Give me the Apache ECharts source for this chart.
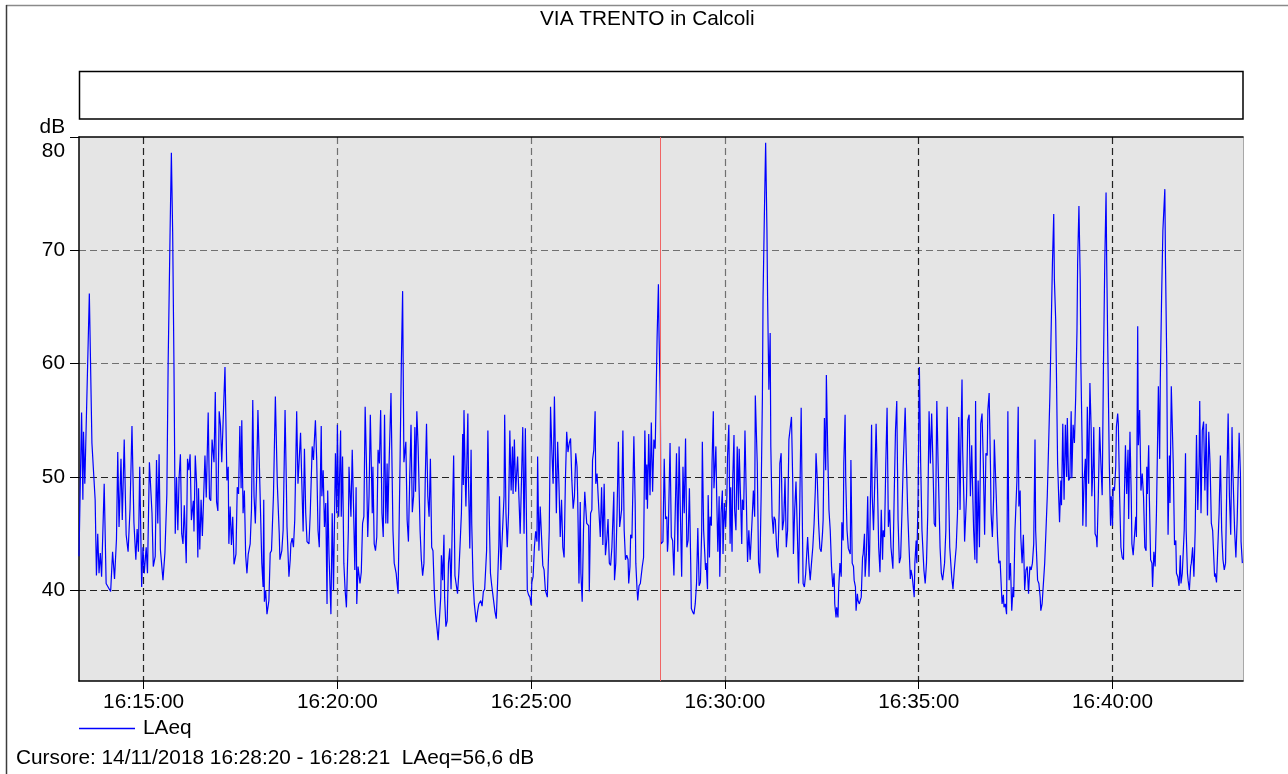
<!DOCTYPE html>
<html><head><meta charset="utf-8">
<script src="https://cdn.jsdelivr.net/npm/echarts@6/dist/echarts.min.js"></script>
<style>html,body{margin:0;padding:0;background:#fff;overflow:hidden}#c{width:1288px;height:774px}</style>
</head><body><div id="c"></div>
<script>
const chartTitle = 'VIA TRENTO in Calcoli';
const seriesName = 'LAeq';
const startClock = '16:13:20';
const endOffsetSec = 1802;
const xTickLabels = ['16:15:00','16:20:00','16:25:00','16:30:00','16:35:00','16:40:00'];
const yTicks = [40,50,60,70,80];
const yMin = 32, yMax = 80;
const cursorClock = '16:28:20';
const cursorText = 'Cursore: 14/11/2018 16:28:20 - 16:28:21  LAeq=56,6 dB';

// seconds after 16:13:20
const secs = [
0,4,6,7,9,16,20,25,27,29,
31,33,35,39,42,45,49,52,55,58,
60,62,65,67,70,73,76,79,82,85,
88,90,92,94,97,99,101,104,106,109,
113,115,118,120,122,124,126,130,133,136,
138,141,143,145,147,149,151,153,155,157,
159,161,163,166,168,170,172,174,177,178,
180,182,184,185,187,189,191,193,195,197,
200,202,204,206,209,211,213,215,217,219,
221,224,226,229,231,232,234,236,238,240,
243,245,247,249,251,252,254,256,258,260,
262,265,267,269,271,273,275,277,279,282,
283,285,286,287,289,291,294,296,298,301,
304,307,310,311,314,316,319,321,322,325,
327,328,330,332,334,337,339,343,345,347,
349,351,353,356,358,361,363,364,366,368,
370,372,375,376,378,380,382,384,385,387,
390,392,394,397,399,400,402,405,406,408,
410,412,414,417,418,421,423,425,427,429,
430,432,435,437,439,441,443,445,447,449,
451,454,455,457,459,461,463,465,467,469,
471,473,
475,477,478,480,483,486,488,491,494,497,
499,501,503,506,508,510,512,514,516,518,
520,521,523,525,528,530,532,534,536,538,
540,542,544,546,548,550,552,554,556,558,
560,561,563,565,566,568,570,572,574,576,
578,580,582,584,586,588,590,592,594,595,
596,598,599,602,603,605,607,608,610,612,
615,617,619,622,624,626,628,631,633,635,
637,639,642,644,646,648,650,651,653,656,
658,659,661,663,665,667,669,671,672,674,
676,679,681,683,685,687,689,691,693,694,
696,698,700,701,703,705,
707,709,710,712,714,716,718,720,722,725,
728,730,732,734,736,739,741,743,745,747,
749,751,753,755,757,759,761,763,765,767,
769,771,772,774,776,777,779,781,783,786,
789,790,792,794,795,797,799,800,802,804,
807,809,811,813,815,817,819,821,823,825,
828,829,831,833,835,837,840,842,844,846,
848,850,851,853,854,856,859,861,862,864,
865,867,869,872,874,876,878,879,880,882,
884,886,888,890,892,893,895,897,898,900,
901,904,906,908,910,911,912,915,917,919,
921,923,925,927,929,931,933,935,
937,939,941,943,945,947,948,950,952,954,
956,958,960,962,964,965,967,970,971,973,
974,976,977,979,980,982,983,986,987,989,
991,992,994,996,997,999,1001,1003,1004,1006,
1008,1009,1011,1012,1014,1015,1017,1019,1021,1022,
1024,1026,1027,1029,1031,1033,1035,1037,1039,1040,
1042,1044,1046,1047,1050,1052,1054,1056,1058,1059,
1061,1063,1065,1066,1068,1070,1071,1073,1075,1076,
1078,1080,1082,1084,1085,1087,1089,1091,1093,1095,
1097,1099,1101,1103,1105,1106,1108,1110,1112,1114,
1116,1118,1120,1121,1123,1125,1126,1128,1130,1132,
1134,1136,1138,1140,1141,1143,1145,1147,1149,1151,
1152,1154,1156,1157,1159,1161,1163,1165,1167,1169,
1170,
1172,1173,1175,1176,1178,1180,1181,1183,1184,1186,
1187,1189,1191,1194,1195,1197,1199,1200,1202,1203,
1205,1206,1208,1211,1213,1214,1216,1217,1219,1221,
1223,1224,1227,1228,1230,1232,1234,1236,1238,1240,
1242,1244,1245,1247,1249,1251,1253,1255,1257,1260,
1262,1264,1266,1268,1270,1272,1274,1276,1279,1281,
1283,1285,1287,1288,1290,1293,1294,1296,1297,1299,
1301,1302,1303,1305,1308,1310,1312,1314,1316,1318,
1320,1322,1324,1326,1328,1330,1333,1335,1337,1340,
1342,1344,1346,1348,1351,1353,1355,1358,1360,1362,
1364,1365,1367,1368,1370,1371,1374,1376,1378,1380,
1382,1383,1385,1387,1388,1390,1392,1394,1396,1398,
1400,
1402,1404,1406,1407,1409,1411,1412,1414,1416,1417,
1420,1422,1424,1426,1429,1431,1432,1434,1436,1438,
1440,1442,1444,1446,1447,1449,1452,1454,1455,1457,
1458,1460,1462,1464,1466,1468,1470,1472,1474,1476,
1478,1480,1481,1484,1486,1488,1489,1491,1493,1495,
1497,1499,1501,1503,1505,1507,1509,1510,1512,1513,
1515,1517,1518,1520,1521,1523,1525,1527,1529,1530,
1532,1534,1536,1537,1539,1541,1543,1545,1546,1548,
1550,1551,1553,1554,1556,1558,1559,1561,1563,1565,
1567,1568,1570,1571,1573,1575,1576,1578,1580,1582,
1584,1586,1588,1590,1591,1593,1595,1597,1598,1600,
1601,1603,1605,1606,1608,1609,1611,1613,1615,1617,
1618,1620,1622,1624,1625,1627,1629,1630,1632,
1636,1637,1639,1640,1642,1644,1646,1648,1650,1652,
1653,1654,1656,1657,1659,1661,1662,1664,1666,1668,
1670,1671,1673,1674,1676,1678,1681,1682,1684,1685,
1686,1688,1689,1691,1694,1696,1698,1699,1701,1703,
1705,1706,1708,1711,1713,1714,1716,1717,1719,1721,
1722,1724,1726,1728,1730,1732,1734,1735,1737,1739,
1741,1743,1745,1747,1749,1751,1753,1755,1758,1759,
1761,1763,1765,1767,1769,1771,1773,1775,1777,1779,
1781,1783,1785,1786,1789,1791,1793,1795,1796,1798,
1799,1801
];

// LAeq, dB
const laeq = [
43.0,55.7,48.0,54.0,49.4,66.2,53.0,48.0,41.3,45.0,
41.5,43.3,41.2,49.4,40.6,40.3,39.9,43.4,41.0,44.5,
52.2,45.6,51.6,46.2,53.3,44.9,43.4,47.2,54.5,46.0,
42.7,45.4,43.4,50.9,40.3,43.8,41.5,43.8,41.5,51.3,
46.8,42.1,43.0,51.5,45.9,52.0,43.6,40.9,43.3,48.5,
60.0,71.6,78.6,71.6,60.0,45.0,50.0,45.3,50.0,52.0,
45.0,44.1,47.5,42.4,51.6,50.6,52.0,46.2,47.9,45.2,
51.9,49.5,42.9,49.0,43.6,48.0,44.8,48.3,51.9,48.2,
55.7,48.1,47.9,53.3,51.3,57.5,47.8,47.0,55.8,54.6,
51.3,56.4,59.7,49.7,50.9,44.1,47.4,44.0,46.5,42.3,
43.2,49.1,48.5,54.5,49.0,55.0,46.8,48.8,43.1,41.5,
43.2,44.1,47.1,56.8,48.3,45.9,50.0,55.9,51.6,51.5,
42.4,40.3,48.0,39.0,40.0,37.9,39.1,43.3,43.5,48.3,
57.1,49.4,45.0,42.7,43.5,45.3,55.9,49.4,45.6,41.2,
42.7,44.1,44.6,43.8,46.2,55.8,49.4,53.9,49.4,45.2,
52.5,46.8,44.3,44.1,46.8,52.7,51.5,52.8,55.0,51.5,
45.3,43.8,54.5,48.3,50.6,45.6,47.7,38.8,48.8,43.2,
37.9,46.8,40.0,52.1,46.8,54.6,46.5,54.1,46.5,51.8,
42.4,40.0,38.5,45.3,50.9,46.5,52.4,47.4,41.8,49.1,
38.8,42.1,40.6,41.6,45.9,46.5,56.2,51.2,44.7,48.3,
55.5,46.8,50.9,44.1,43.5,44.7,52.4,51.2,55.9,46.8,
44.7,55.5,
45.9,51.2,45.9,51.1,57.4,45.3,42.4,41.5,39.7,51.2,
60.0,66.4,51.3,53.1,46.2,44.3,50.0,54.6,46.9,48.3,
54.4,48.7,55.8,52.7,45.3,42.7,41.3,42.4,49.7,54.7,
48.3,46.5,51.6,43.8,43.5,40.0,37.9,36.8,35.6,35.7,
39.4,43.1,40.9,44.9,39.4,36.8,37.3,42.4,43.7,40.1,
46.2,51.9,41.3,41.2,39.7,41.5,44.1,46.8,53.8,49.3,
55.9,49.7,47.4,55.6,49.7,43.7,52.4,45.9,40.9,38.8,
37.2,38.1,38.8,39.1,38.6,39.9,40.1,43.5,54.1,46.8,
41.5,40.4,40.3,38.1,37.5,40.6,44.1,48.3,41.8,41.9,
48.3,55.5,46.8,43.8,46.8,54.1,48.8,52.7,48.5,53.3,
48.7,51.8,48.3,45.0,49.7,54.4,45.0,54.3,44.9,40.0,
39.6,39.4,38.7,40.7,41.2,43.8,
45.2,44.3,51.8,43.5,47.4,47.5,42.2,41.8,40.0,39.4,
45.3,56.2,52.4,49.4,57.1,46.8,53.1,49.4,44.7,48.0,
43.8,42.9,49.7,54.0,52.2,53.0,53.4,49.7,47.2,48.3,
52.1,50.9,48.3,40.6,47.8,41.5,39.0,45.3,48.7,45.9,
45.7,39.9,46.8,47.1,51.5,52.4,55.8,49.4,50.3,48.0,
44.7,49.1,44.0,49.4,43.1,44.4,46.3,42.4,42.2,43.8,
48.7,40.9,42.4,46.8,53.1,45.6,47.1,54.1,45.3,42.7,
43.1,42.7,40.6,42.1,44.9,44.6,53.6,47.7,42.4,40.0,
39.1,40.4,40.6,42.1,42.9,54.1,48.0,51.1,47.2,53.8,
48.4,54.8,48.7,53.3,52.5,55.6,62.4,67.0,62.4,56.6,
44.1,44.3,51.6,46.3,46.5,43.4,44.3,53.0,44.7,44.4,
41.3,46.8,52.1,43.4,52.7,46.8,41.2,50.9,
46.8,53.4,43.8,44.4,49.0,42.4,38.4,38.1,37.9,38.8,
40.6,45.5,40.4,40.7,45.3,53.1,45.3,41.8,42.4,40.1,
48.4,42.9,46.5,45.7,51.2,55.8,49.0,52.7,49.0,43.4,
48.3,41.2,46.8,48.8,43.2,47.7,45.6,48.3,51.8,54.6,
44.1,49.1,43.4,49.7,53.7,47.1,45.3,52.7,47.1,52.5,
48.5,44.1,48.0,47.1,54.1,48.3,42.5,45.3,42.7,43.8,
46.2,48.8,46.5,57.2,51.2,42.4,41.5,48.3,57.1,65.9,
73.0,79.5,71.8,65.9,57.7,62.7,52.7,46.5,45.0,46.5,
46.2,43.8,42.9,47.1,51.2,52.1,45.3,46.2,49.9,43.8,
45.3,53.3,54.3,55.3,49.4,43.2,47.1,49.6,45.3,40.6,
48.3,56.1,45.3,40.6,40.3,41.5,41.6,44.7,42.4,40.9,
42.4,43.8,45.9,49.0,52.1,49.7,45.9,43.7,43.4,45.0,
46.2,55.2,50.6,59.0,52.7,47.1,45.3,42.1,40.3,41.5,
38.8,
37.6,38.5,37.6,40.0,42.4,41.2,46.0,44.4,51.2,55.5,
49.7,45.3,43.7,43.2,51.5,42.4,42.1,40.9,40.3,38.2,
39.7,39.1,38.8,39.4,42.9,43.2,45.0,41.2,43.2,48.3,
41.2,43.5,54.6,48.3,45.3,49.7,54.7,49.7,43.8,41.6,
47.1,42.7,45.3,44.7,51.2,56.1,45.6,47.1,43.8,41.9,
48.3,54.1,56.7,46.2,42.4,42.9,46.8,51.2,56.1,51.2,
46.8,43.8,41.0,41.8,41.2,39.4,42.4,44.4,42.4,48.3,
59.7,55.6,51.2,45.3,41.8,40.6,42.4,46.8,55.8,51.2,
55.6,51.2,45.9,45.6,56.7,51.2,43.8,41.5,40.9,42.4,
45.3,56.2,49.7,43.8,41.2,40.1,41.8,43.8,46.8,55.3,
47.1,52.1,58.6,52.4,47.8,44.3,48.3,55.0,55.5,48.3,
52.8,50.0,45.3,42.7,56.7,42.4,49.7,43.8,54.7,55.6,
51.2,
44.9,52.1,51.9,55.9,57.4,51.2,46.8,44.7,48.3,53.3,
48.3,44.7,42.4,42.6,38.8,39.6,38.5,38.8,37.9,55.8,
40.9,42.4,38.2,40.3,39.4,45.3,49.7,56.2,47.4,48.8,
44.7,42.4,44.9,40.0,41.8,42.1,39.7,42.1,41.8,42.4,
44.1,53.3,45.3,40.9,40.6,39.4,38.2,38.8,38.8,42.4,
45.3,48.3,52.7,57.1,63.0,68.9,73.2,67.4,63.9,60.0,
51.2,47.7,46.0,49.7,47.5,54.7,48.0,54.6,50.0,55.2,
49.7,49.9,55.8,49.9,54.6,53.0,57.1,63.0,68.9,73.9,
67.4,60.0,52.7,45.7,49.7,51.6,45.6,56.2,49.4,58.3,
54.1,48.3,51.2,54.4,45.0,44.7,43.8,48.3,54.4,51.2,
48.4,60.0,68.9,75.1,68.9,60.0,51.2,45.7,48.3,45.7,
49.1,48.8,50.9,54.4,55.6,54.7,48.3,43.8,42.9,42.7,
47.1,52.8,48.5,52.4,46.3,54.0,48.3,44.1,43.1,
46.5,44.7,63.3,52.8,55.9,48.8,50.3,48.3,43.8,43.5,
50.9,48.5,52.8,48.3,42.7,42.4,40.3,43.4,42.1,46.8,
54.1,58.0,51.6,58.6,65.9,71.8,75.4,68.9,60.0,51.2,
44.9,51.9,47.7,58.0,51.2,44.0,44.4,41.5,41.2,40.4,
43.1,40.6,41.5,45.3,52.1,45.3,41.5,40.9,40.0,42.1,
42.4,43.8,41.2,45.3,53.7,47.1,51.2,56.7,46.8,54.1,
54.9,48.8,54.7,46.6,54.0,51.2,45.9,45.3,41.2,41.5,
40.7,43.8,46.8,51.9,45.3,42.7,41.8,42.4,49.7,55.6,
48.3,44.9,54.4,51.2,45.3,42.9,46.2,51.2,53.9,50.3,
44.3,42.4
];

if (secs.length !== laeq.length) throw new Error('length mismatch ' + secs.length + ' vs ' + laeq.length);
for (let i = 1; i < secs.length; i++) { if (secs[i] <= secs[i-1]) throw new Error('non-increasing at ' + i + ' ' + secs[i]); }

function toSec(c) { const p = c.split(':').map(Number); return p[0]*3600 + p[1]*60 + p[2]; }
const startSec = toSec(startClock);
function clock(off) {
  const s = Math.round(startSec + off);
  const h = Math.floor(s / 3600), m = Math.floor((s % 3600) / 60), ss = s % 60;
  return [h, m, ss].map(n => String(n).padStart(2, '0')).join(':');
}
const xTickValues = xTickLabels.map(l => toSec(l) - startSec);
const cursorOffset = toSec(cursorClock) - startSec;
const FONT = '"Liberation Sans", Arial, sans-serif';
const FS = 20.8;
const txt = { fontSize: FS, color: '#000', fontFamily: FONT, fontWeight: 'normal' };
const DARK = '#222222', GRAY = '#707070';

const chart = echarts.init(document.getElementById('c'), null, { renderer: 'canvas' });
chart.setOption({
  animation: false,
  backgroundColor: '#ffffff',
  textStyle: { fontFamily: FONT },
  title: [
    { text: chartTitle, left: 540, top: 9, padding: 0, textStyle: txt },
    { text: cursorText, left: 16, top: 748, padding: 0, textStyle: txt }
  ],
  legend: {
    data: [{ name: seriesName, icon: 'rect' }],
    left: 79, top: 718, padding: 0,
    itemWidth: 56, itemHeight: 1.5,
    selectedMode: false,
    textStyle: Object.assign({}, txt, { padding: [0, 0, 0, 3] })
  },
  grid: {
    left: 79, top: 137, right: 45, bottom: 93,
    show: true, backgroundColor: '#e5e5e5', borderWidth: 0,
    containLabel: false, outerBoundsMode: 'none'
  },
  graphic: [
    { type: 'line', silent: true, shape: { x1: 6, y1: 5.5, x2: 1288, y2: 5.5 }, style: { stroke: '#8a8a8a', lineWidth: 1.5 } },
    { type: 'line', silent: true, shape: { x1: 6.5, y1: 5, x2: 6.5, y2: 774 }, style: { stroke: '#3c3c3c', lineWidth: 1.5 } },
    { type: 'rect', silent: true, shape: { x: 79.5, y: 71.5, width: 1163.5, height: 47.5 }, style: { fill: '#ffffff', stroke: '#000000', lineWidth: 1.5 } }
  ],
  xAxis: [
    {
      type: 'value', min: 0, max: endOffsetSec, position: 'bottom',
      axisLine: { show: true, onZero: false, lineStyle: { color: '#000', width: 1.5 } },
      axisTick: { show: true, customValues: xTickValues, length: 8, inside: false, lineStyle: { color: '#000' } },
      axisLabel: Object.assign({ customValues: xTickValues, formatter: v => clock(v), margin: 11, hideOverlap: false }, txt),
      splitLine: { show: true, lineStyle: { color: [DARK, GRAY, GRAY, GRAY, DARK, DARK], width: 1.2, type: [7, 4] } }
    },
    {
      type: 'value', min: 0, max: endOffsetSec, position: 'top',
      axisLine: { show: true, onZero: false, lineStyle: { color: '#000', width: 1.5 } },
      axisTick: { show: false }, axisLabel: { show: false }, splitLine: { show: false }
    }
  ],
  yAxis: [
    {
      type: 'value', min: yMin, max: yMax, position: 'left',
      name: 'dB', nameLocation: 'end', nameGap: 10,
      nameTextStyle: Object.assign({}, txt, { align: 'right', verticalAlign: 'middle', padding: [0, 14, 0, 0] }),
      axisLine: { show: true, onZero: false, lineStyle: { color: '#000', width: 1.5 } },
      axisTick: { show: true, customValues: yTicks, length: 9, lineStyle: { color: '#000' } },
      axisLabel: Object.assign({
        customValues: yTicks, margin: 14, hideOverlap: false,
        formatter: v => (v === yMax ? '{top|' + v + '}' : String(v)),
        rich: { top: Object.assign({}, txt, { padding: [28, 0, 0, 0] }) }
      }, txt),
      splitLine: { show: true, lineStyle: { color: [DARK, DARK, GRAY, GRAY, 'rgba(0,0,0,0)'], width: 1.2, type: [7, 4] } }
    },
    {
      type: 'value', min: yMin, max: yMax, position: 'right',
      axisLine: { show: true, onZero: false, lineStyle: { color: '#a8a8a8', width: 1 } },
      axisTick: { show: false }, axisLabel: { show: false }, splitLine: { show: false }
    }
  ],
  series: [
    {
      name: seriesName, type: 'line', xAxisIndex: 0, yAxisIndex: 0,
      data: secs.map((s, i) => [s, laeq[i]]),
      showSymbol: false, symbol: 'none',
      color: '#0000ff',
      itemStyle: { color: '#0000ff' },
      lineStyle: { color: '#0000ff', width: 1.2 },
      emphasis: { disabled: true },
      markLine: {
        silent: true, symbol: ['none', 'none'], animation: false,
        label: { show: false },
        lineStyle: { color: '#f06464', width: 1, type: 'solid' },
        emphasis: { disabled: true },
        data: [{ xAxis: cursorOffset }]
      }
    }
  ]
});
</script>
</body></html>
